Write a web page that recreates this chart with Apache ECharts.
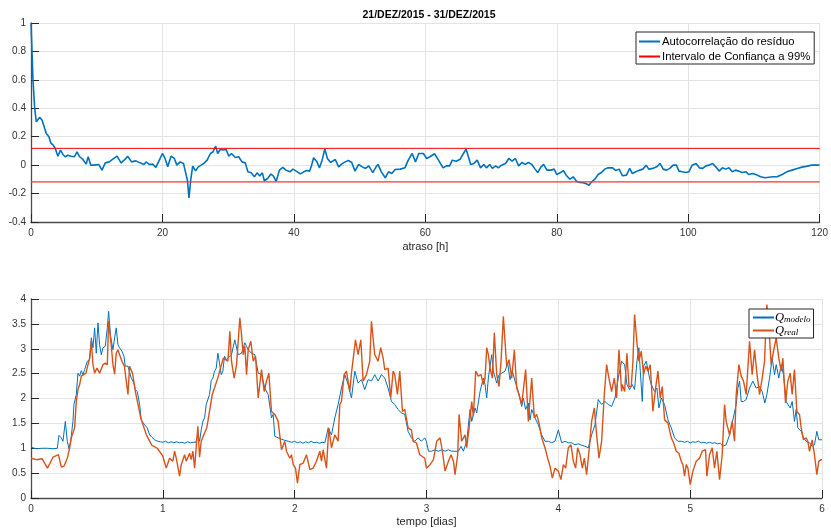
<!DOCTYPE html>
<html>
<head>
<meta charset="utf-8">
<script src="https://cdn.jsdelivr.net/npm/echarts@6/dist/echarts.min.js"></script>
<style>
html,body{margin:0;padding:0;background:#fff;}
#chart{width:831px;height:531px;}
</style>
</head>
<body>
<div id="chart"></div>
<script>
// ---- Top plot data: residual autocorrelation vs lag [h] ----
const lags = [0,0.3,0.56,0.81,1.0,1.31,1.67,1.97,2.32,2.47,2.73,3.0,3.38,3.7,4.09,4.5,4.85,5.2,5.6,6.1,6.6,7.0,7.4,7.9,8.4,8.7,9.1,9.6,10.3,10.8,11.3,11.9,12.4,13.1,13.7,14.3,14.7,15.3,15.96,16.6,17.2,17.5,18,18.5,19,19.4,20,20.4,20.8,21.3,21.8,22.2,22.7,23.2,23.5,23.8,24.04,24.3,24.6,25.05,25.45,25.9,26.3,26.8,27.3,27.7,28.1,28.4,28.8,29.3,29.7,30.1,30.5,31.1,31.6,32.1,32.6,33,33.5,34,34.4,34.8,35.2,35.5,36,36.5,36.9,37.3,37.8,38.3,38.8,39.4,39.85,40.35,41.0,41.5,42.0,42.4,42.7,43.0,43.5,43.9,44.3,44.7,45.1,45.6,46.3,46.8,47.3,47.8,48.3,48.8,49.3,49.85,50.4,50.9,51.4,52.0,52.5,52.8,53.3,53.9,54.4,54.9,55.4,56.2,56.9,57.4,58.0,58.5,59.0,59.7,60.2,60.7,61.4,62.0,62.7,63.2,63.7,64.1,64.7,65.3,65.8,66.2,66.5,66.9,67.4,67.9,68.4,68.9,69.3,69.8,70.2,70.7,71.1,71.6,72.2,72.7,73.2,73.7,74.2,74.7,75.2,75.7,76.2,76.7,77.1,77.6,78.0,78.5,79.1,79.6,80.0,80.6,81.0,81.5,82.0,82.5,83.0,83.5,84.0,84.5,84.9,85.3,85.8,86.3,86.8,87.3,87.8,88.5,89.0,89.5,90.0,90.6,91.1,91.5,92.0,92.6,93.1,93.6,94.0,94.6,95.2,95.7,96.2,96.7,97.2,97.7,98.2,98.6,99.1,99.7,100.1,100.6,101.2,101.7,102.2,102.7,103.2,103.7,104.2,104.7,105.2,105.7,106.2,106.7,107.2,107.7,108.2,108.8,109.2,109.8,110.5,111.0,111.7,112.3,112.9,113.5,114.3,115.0,115.8,116.6,117.3,118.1,118.8,119.6,120];
const acf = [1.0,0.6,0.4,0.305,0.305,0.336,0.317,0.275,0.223,0.235,0.2,0.157,0.141,0.117,0.063,0.106,0.075,0.059,0.07,0.063,0.059,0.094,0.059,0.04,0.007,0.059,0,0,0.005,-0.035,0.016,0.023,0.04,0.063,0.016,0.04,0.063,0.023,0.03,0.016,0.005,0.023,0.005,0.007,-0.016,0.023,0.082,0.047,-0.012,0.063,0.047,0,0.023,0.012,-0.047,-0.106,-0.23,-0.106,-0.007,-0.04,-0.012,0,0.012,0.035,0.082,0.094,0.134,0.082,0.11,0.106,0.11,0.063,0.082,0.054,0.059,0.023,0.016,-0.047,-0.054,-0.082,-0.054,-0.077,-0.054,-0.11,-0.094,-0.063,-0.077,-0.115,-0.035,-0.016,-0.035,-0.047,-0.028,-0.042,-0.061,-0.047,-0.038,-0.042,0,0.052,0.023,-0.019,0.035,0.113,0.047,0.019,0.04,-0.012,0.009,0.023,0.033,0.019,-0.042,0.005,-0.012,-0.023,-0.005,-0.052,-0.012,0.005,-0.047,-0.089,-0.047,-0.059,-0.031,-0.028,-0.019,0.035,0.082,0.023,0.082,0.082,0.047,0.059,0.08,0.035,-0.019,-0.005,-0.005,0.035,0.028,0.042,0.082,0.113,0.099,0.005,0.012,0.035,-0.019,0.005,-0.019,0.005,-0.023,-0.005,-0.019,0,0.012,0.047,0.028,0.047,-0.005,0.019,0.005,0.019,0.005,-0.028,-0.052,-0.012,0.005,-0.035,-0.035,-0.028,-0.066,-0.052,-0.038,-0.075,-0.099,-0.082,-0.113,-0.122,-0.124,-0.131,-0.141,-0.117,-0.099,-0.066,-0.052,-0.028,-0.019,-0.019,-0.038,-0.028,-0.075,-0.07,-0.023,-0.059,-0.047,-0.035,-0.028,0,-0.028,-0.023,-0.012,0.012,-0.028,-0.035,-0.023,0,0,-0.042,-0.047,-0.052,-0.047,0,0.012,-0.019,-0.023,-0.005,0,0.012,-0.012,-0.042,-0.019,-0.028,-0.019,-0.047,-0.035,-0.042,-0.052,-0.047,-0.066,-0.059,-0.07,-0.082,-0.089,-0.085,-0.082,-0.082,-0.066,-0.047,-0.035,-0.023,-0.014,-0.007,0,0,0.001];
const confLimit = 0.118;

// ---- Bottom plot data: time in hours and flows ----
const tModeloH = [0,0.97,2,2.97,4,4.79,5.09,5.52,5.82,6.25,6.61,6.91,7.22,7.64,7.82,8.25,8.55,8.85,9.16,9.46,9.76,10.25,10.67,10.98,11.28,11.58,11.89,12.19,12.49,12.8,13.1,13.52,13.89,14.13,14.49,14.92,15.22,15.52,15.83,16.13,16.56,16.92,17.16,17.65,17.95,18.25,18.74,18.98,19.35,19.77,20.07,20.38,20.68,21.16,21.59,22.01,22.5,23.1,23.59,
24,24.5,25,25.5,26,26.5,27,27.5,28,28.5,29,29.5,30,30.38,30.69,30.99,31.29,31.6,31.9,32.2,32.5,32.81,33.11,33.41,33.72,34.02,34.32,34.63,34.93,35.23,35.54,35.84,
35.9,36.5,37.1,37.72,38.33,38.93,39.54,40.15,40.75,41.36,41.96,42.57,43.18,43.78,44.08,44.39,44.99,45.9,46.82,47.5,48,48.5,49,49.5,50,50.5,51,51.5,52,52.5,53,53.5,54.1,54.7,55.31,55.91,56.52,57.13,57.73,58.34,58.95,59.55,60.16,60.76,61.37,61.98,62.58,63.19,63.8,64.4,65.01,65.62,66.22,66.83,67.43,68.04,68.65,69.25,69.86,70.47,71.07,71.68,
71.98,72.35,72.95,73.56,74.17,74.77,75.38,75.99,76.59,77.2,77.81,78.29,78.71,79.32,79.93,80.23,80.84,81.14,81.75,82.35,82.66,82.96,83.26,83.87,84.17,84.78,85.2,85.69,86.29,86.78,87.2,87.63,88.11,88.72,89.33,89.63,90.05,90.54,90.84,91.15,91.75,92.36,92.97,93.57,94.18,94.78,95.39,96.0,96.6,97.21,97.82,98.42,99.03,99.64,100.24,100.85,101.46,102.06,102.67,103.27,103.88,104.49,105.09,105.7,106.31,106.91,107.52,
108.07,108.49,108.98,109.46,109.88,110.31,110.67,110.92,111.28,111.52,112.01,112.61,112.92,113.52,113.95,114.31,114.74,115.34,115.95,116.56,117.16,117.77,118.38,119,119.5,120,120.5,121,121.5,122,122.5,123,123.5,124,124.5,125,125.5,125.96,126.56,127.17,127.77,128.38,128.68,128.99,129.29,129.71,130.2,130.81,131.41,132.02,132.63,133.11,133.6,133.96,134.45,134.93,135.36,135.66,136.14,136.57,136.99,137.48,137.78,138.21,138.57,138.99,139.3,139.6,140.21,140.63,141.12,141.72,142.21,142.63,143.06,143.42,143.84,144];
const qModelo = [1.02,0.99,1.0,1.0,0.99,1.0,1.26,1.21,1.14,1.54,1.14,0.99,1.14,1.54,1.88,2.08,2.51,2.45,2.56,2.48,2.58,2.75,2.78,3.22,3.02,3.42,2.91,3.52,3.08,2.88,3.02,3.05,3.42,3.75,3.25,2.98,3.22,3.42,3.08,3.02,2.95,2.85,2.65,2.65,2.61,2.41,2.31,2.18,2.14,1.88,1.57,1.54,1.47,1.41,1.27,1.22,1.17,1.14,1.13,
1.12,1.14,1.11,1.13,1.11,1.13,1.11,1.12,1.10,1.13,1.11,1.12,1.12,1.27,1.14,1.37,1.54,1.61,1.88,1.91,2.08,2.36,2.41,2.55,2.61,2.91,2.71,2.48,2.55,2.85,2.78,2.75,
2.75,2.88,3.18,2.88,2.91,3.12,2.98,2.91,2.88,2.51,2.48,2.21,2.08,1.61,1.68,1.24,1.21,1.17,1.14,1.12,1.14,1.11,1.13,1.1,1.13,1.11,1.14,1.11,1.12,1.1,1.12,1.11,1.41,1.27,1.61,1.88,2.21,2.48,2.28,2.01,2.55,2.31,2.38,2.18,2.38,2.35,2.48,2.35,2.48,2.41,2.21,1.94,1.88,1.78,1.71,1.68,1.34,1.21,1.14,1.21,1.14,1.21,
1.14,0.94,0.94,0.97,0.94,0.97,0.94,0.97,0.94,0.94,0.94,1.04,0.94,1.14,1.78,1.54,1.81,1.71,2.14,2.41,2.28,2.01,2.41,2.88,2.55,2.31,2.48,2.51,2.55,2.71,2.38,2.55,2.35,2.14,1.84,2.01,1.78,1.91,1.57,1.78,1.61,1.47,1.27,1.14,1.14,1.11,1.14,1.37,1.11,1.14,1.11,1.11,1.07,1.09,1.06,1.04,1.01,1.27,1.47,1.98,1.88,1.94,1.88,1.84,2.01,2.41,2.75,
2.68,2.28,2.18,2.28,2.18,2.75,3.02,2.55,1.94,2.65,2.75,2.41,2.28,2.14,2.21,1.81,2.01,1.88,1.57,1.41,1.21,1.14,1.14,1.12,1.14,1.11,1.13,1.12,1.14,1.11,1.12,1.1,1.12,1.1,1.11,1.09,1.1,1.04,1.07,1.27,1.57,1.88,2.21,2.35,1.94,1.94,1.98,2.21,2.35,2.21,2.24,2.14,1.91,2.08,2.41,2.81,2.48,2.68,2.41,2.68,2.48,1.94,1.88,1.81,1.94,1.54,1.78,1.41,1.34,1.21,1.14,1.11,1.04,1.07,1.34,1.17,1.17,1.17];
const tRealH = [0,1,2,3,4,5,5.52,6,6.61,7.03,7.34,7.64,7.94,8.25,8.55,8.85,9.16,9.46,10,10.67,10.98,11.28,11.58,12,12.49,13.1,13.52,13.89,14.13,14.6,14.92,15.22,15.52,15.83,16.13,16.56,17,17.65,17.95,18.5,19,20,21,22,23,24,24.62,25.23,25.83,26.14,26.44,27.05,27.35,27.96,28.26,28.87,29.17,29.47,29.78,30.08,30.38,30.69,30.99,32,33,34,35,35.84,
36.2,36.5,36.99,37.42,38.02,38.33,38.63,38.93,39.24,39.54,40.02,40.45,40.88,41.36,41.96,42.45,42.87,43.3,43.78,44.39,44.99,45.6,46.21,46.51,47.12,47.42,47.73,48.15,48.51,48.94,49.54,50.15,50.76,51.36,51.97,52.58,52.88,53.18,53.79,54.21,54.7,55.31,55.91,56.22,56.52,57.0,57.43,58.03,58.34,59.07,59.55,60.04,60.46,61.07,61.67,61.98,62.58,63.19,63.67,64.1,64.4,65.01,65.49,65.92,66.22,66.71,67.13,67.62,68.04,68.65,69.25,69.56,70.16,70.77,71.07,71.68,71.98,
72.65,73.26,73.86,74.47,74.89,75.38,75.99,76.47,76.9,77.2,77.68,77.93,78.41,79.02,79.32,79.75,80.23,80.53,80.96,81.44,81.93,82.35,82.66,82.96,83.26,83.57,83.99,84.35,84.78,85.2,85.57,85.99,86.29,86.6,87.02,87.51,87.99,88.42,88.84,89.33,90.05,90.54,91.15,91.63,92.06,92.48,92.97,93.57,94.06,94.48,94.91,95.39,96.0,96.48,96.91,97.33,97.82,98.3,98.73,99.15,99.52,99.94,100.37,100.73,101.15,101.58,102.06,102.55,102.97,103.4,103.88,104.37,104.79,105.21,105.7,106.19,106.61,107.04,107.52,
107.64,108.07,108.49,108.86,109.28,109.58,109.88,110.31,110.67,111.1,111.52,111.89,112.31,112.74,113.22,113.71,114.13,114.55,114.92,115.34,115.95,116.56,116.98,117.47,117.95,118.38,118.68,118.98,119.28,119.59,120.01,120.5,121.1,121.71,122.19,122.8,123.04,123.53,124.01,124.44,124.86,125.35,125.83,126.26,126.56,127.17,127.65,128.08,128.38,128.87,129.29,129.71,130.2,130.81,131.29,131.72,132.14,132.63,133.11,133.54,133.96,134.32,134.75,135.17,135.66,136.14,136.57,136.87,137.36,137.78,138.21,138.57,138.99,139.42,139.9,140.21,140.63,141.12,141.42,141.72,142.21,142.63,143.06,143.42,143.84,144];
const qReal = [0.8,0.77,0.79,0.6,0.82,0.87,0.62,0.64,0.8,1.0,1.21,1.21,1.41,1.94,2.18,2.28,2.45,2.48,2.51,2.81,3.15,2.68,2.51,2.61,2.51,2.68,2.71,2.68,3.55,3.08,2.68,2.49,2.91,2.98,2.88,2.75,2.65,2.08,2.65,2.5,2.14,1.6,1.27,1.06,1.0,0.84,0.6,0.8,0.74,0.94,0.8,0.44,0.67,0.87,0.74,0.9,0.77,0.94,0.6,0.6,1.44,0.82,1.14,1.41,2.08,2.41,2.81,2.75,
3.35,2.75,2.41,2.68,3.62,3.28,2.88,3.05,2.48,2.98,3.15,2.75,2.85,2.01,2.58,2.14,2.35,2.51,1.74,1.68,1.54,0.97,1.14,0.94,0.8,0.87,0.67,0.6,0.3,0.67,0.7,0.87,0.57,0.6,0.74,0.94,0.74,0.97,0.6,1.41,1.01,1.27,1.14,1.88,1.94,2.48,2.55,2.14,2.51,3.18,2.88,3.18,2.35,2.48,2.75,3.55,2.88,2.75,3.02,2.81,2.58,2.61,2.01,2.55,2.48,2.08,2.55,1.74,1.78,1.41,1.37,1.14,1.11,0.87,0.9,0.8,0.6,
0.67,0.77,1.14,1.21,0.94,0.54,0.74,0.87,0.74,0.47,0.87,1.68,1.14,1.27,1.01,1.41,1.94,1.64,2.55,2.45,2.48,2.28,2.41,3.02,2.88,2.61,2.41,3.32,2.48,2.24,2.75,3.65,3.15,2.65,2.78,2.41,2.98,2.21,2.08,1.88,2.58,1.54,2.41,1.61,1.68,1.51,1.21,1.01,0.8,0.64,0.4,0.6,0.54,0.37,0.67,0.6,1.01,1.07,0.74,0.6,1.01,0.87,0.6,0.8,0.47,0.94,1.54,1.81,1.27,0.8,1.14,2.08,2.68,2.41,2.14,2.41,2.01,2.98,2.14,
2.28,2.14,2.91,2.24,2.24,2.75,3.69,3.12,2.75,2.95,2.48,2.65,2.55,2.68,1.74,2.21,2.55,2.01,2.24,1.57,1.51,1.21,1.11,0.94,0.9,0.74,0.67,0.44,0.67,0.6,0.27,0.54,0.74,0.8,0.94,0.97,0.44,0.87,1.01,0.6,0.94,0.37,0.87,1.88,1.54,1.27,1.54,1.14,2.08,2.68,2.45,2.35,2.08,3.15,2.48,2.98,2.51,2.08,2.41,2.75,3.89,3.45,2.68,2.95,3.22,2.81,2.55,2.81,1.91,2.35,2.51,2.08,2.58,1.74,1.68,1.41,1.17,1.21,1.14,0.94,1.17,0.87,0.47,0.74,0.77,0.77];

const titleText = '21/DEZ/2015 - 31/DEZ/2015';
const topXName = 'atraso [h]';
const bottomXName = 'tempo [dias]';
const legendTop = ['Autocorrelação do resíduo', 'Intervalo de Confiança a 99%'];
const legendBottom = ['Q_modelo', 'Q_real'];

// ---- build ----
const FONT = '"Liberation Sans", Arial, Helvetica, sans-serif';
const SERIF = '"Liberation Serif", "Times New Roman", serif';
const HOURS_PER_DAY = 24;
const acfPairs = lags.map((l, i) => [l, acf[i]]);
const modeloPairs = tModeloH.map((h, i) => [h / HOURS_PER_DAY, qModelo[i]]);
const realPairs = tRealH.map((h, i) => [h / HOURS_PER_DAY, qReal[i]]);

function axisCommon(extra) {
  return Object.assign({
    type: 'value',
    axisLine: { show: true, onZero: false, lineStyle: { color: '#4d4d4d', width: 1.3 } },
    axisTick: { show: true, inside: true, length: 8, lineStyle: { color: '#262626', width: 1 } },
    axisLabel: { color: '#333', fontSize: 10, fontFamily: FONT },
    splitLine: { show: true, lineStyle: { color: '#e3e3e3', width: 1 } }
  }, extra);
}

const chart = echarts.init(document.getElementById('chart'), null, { renderer: 'canvas' });
chart.setOption({
  backgroundColor: '#fff',
  animation: false,
  title: {
    text: titleText, left: 424, top: 5, textAlign: 'center',
    textStyle: { fontSize: 10.5, fontWeight: 'bold', fontFamily: FONT, color: '#000' }
  },
  grid: [
    { left: 31, right: 9, top: 23, height: 199 },
    { left: 31, right: 9, top: 299, height: 199 }
  ],
  xAxis: [
    axisCommon({ gridIndex: 0, min: 0, max: 120, interval: 20,
      name: topXName, nameLocation: 'middle', nameGap: 19,
      nameTextStyle: { fontSize: 11, fontFamily: FONT, color: '#262626' },
      axisLabel: { color: '#333', fontSize: 10, fontFamily: FONT, margin: 6 } }),
    axisCommon({ gridIndex: 1, min: 0, max: 6, interval: 1,
      name: bottomXName, nameLocation: 'middle', nameGap: 18,
      nameTextStyle: { fontSize: 11, fontFamily: FONT, color: '#262626' },
      axisLabel: { color: '#333', fontSize: 10, fontFamily: FONT, margin: 6 } })
  ],
  yAxis: [
    axisCommon({ gridIndex: 0, min: -0.4, max: 1, interval: 0.2,
      axisLabel: { color: '#333', fontSize: 10, fontFamily: FONT, margin: 5,
        formatter: v => String(Math.round(v * 10) / 10) } }),
    axisCommon({ gridIndex: 1, min: 0, max: 4, interval: 0.5,
      axisLabel: { color: '#333', fontSize: 10, fontFamily: FONT, margin: 5 } })
  ],
  legend: [
    {
      data: legendTop, orient: 'vertical', left: 636, top: 32,
      itemWidth: 21, itemHeight: 2, itemGap: 2,
      padding: [3, 4, 1, 2],
      backgroundColor: '#fff', borderColor: '#262626', borderWidth: 1, borderRadius: 0,
      textStyle: { fontSize: 11.3, lineHeight: 13, fontFamily: FONT, color: '#000', padding: [0, 0, 0, -3] },
      selectedMode: false
    },
    {
      data: legendBottom, orient: 'vertical', left: 749, top: 309,
      itemWidth: 21, itemHeight: 2, itemGap: 0,
      padding: [2, 3, 1, 3],
      backgroundColor: '#fff', borderColor: '#262626', borderWidth: 1, borderRadius: 0,
      selectedMode: false,
      formatter: n => n === 'Q_modelo' ? '{q|Q}{s|modelo}' : '{q|Q}{s|real}',
      textStyle: {
        color: '#000', padding: [0, 0, 0, -4],
        rich: {
          q: { fontSize: 12.5, fontStyle: 'italic', fontFamily: SERIF, color: '#000', lineHeight: 14 },
          s: { fontSize: 9, fontStyle: 'italic', fontFamily: SERIF, color: '#000', padding: [4, 0, 0, 0], lineHeight: 14 }
        }
      }
    }
  ],
  series: [
    { name: legendTop[0], type: 'line', xAxisIndex: 0, yAxisIndex: 0, data: acfPairs,
      symbol: 'none', lineStyle: { color: '#0072BD', width: 1.6 }, itemStyle: { color: '#0072BD' } },
    { name: legendTop[1], type: 'line', xAxisIndex: 0, yAxisIndex: 0,
      data: [[0, confLimit], [120, confLimit]],
      symbol: 'none', lineStyle: { color: '#ff0000', width: 1 }, itemStyle: { color: '#ff0000' } },
    { name: legendTop[1] + ' ', type: 'line', xAxisIndex: 0, yAxisIndex: 0,
      data: [[0, -confLimit], [120, -confLimit]],
      symbol: 'none', lineStyle: { color: '#ff3030', width: 1.4 }, itemStyle: { color: '#ff0000' } },
    { name: legendBottom[0], type: 'line', xAxisIndex: 1, yAxisIndex: 1, data: modeloPairs,
      symbol: 'none', lineStyle: { color: '#0072BD', width: 1 }, itemStyle: { color: '#0072BD' } },
    { name: legendBottom[1], type: 'line', xAxisIndex: 1, yAxisIndex: 1, data: realPairs,
      symbol: 'none', lineStyle: { color: '#D95319', width: 1.4 }, itemStyle: { color: '#D95319' } }
  ]
});
</script>
</body>
</html>
